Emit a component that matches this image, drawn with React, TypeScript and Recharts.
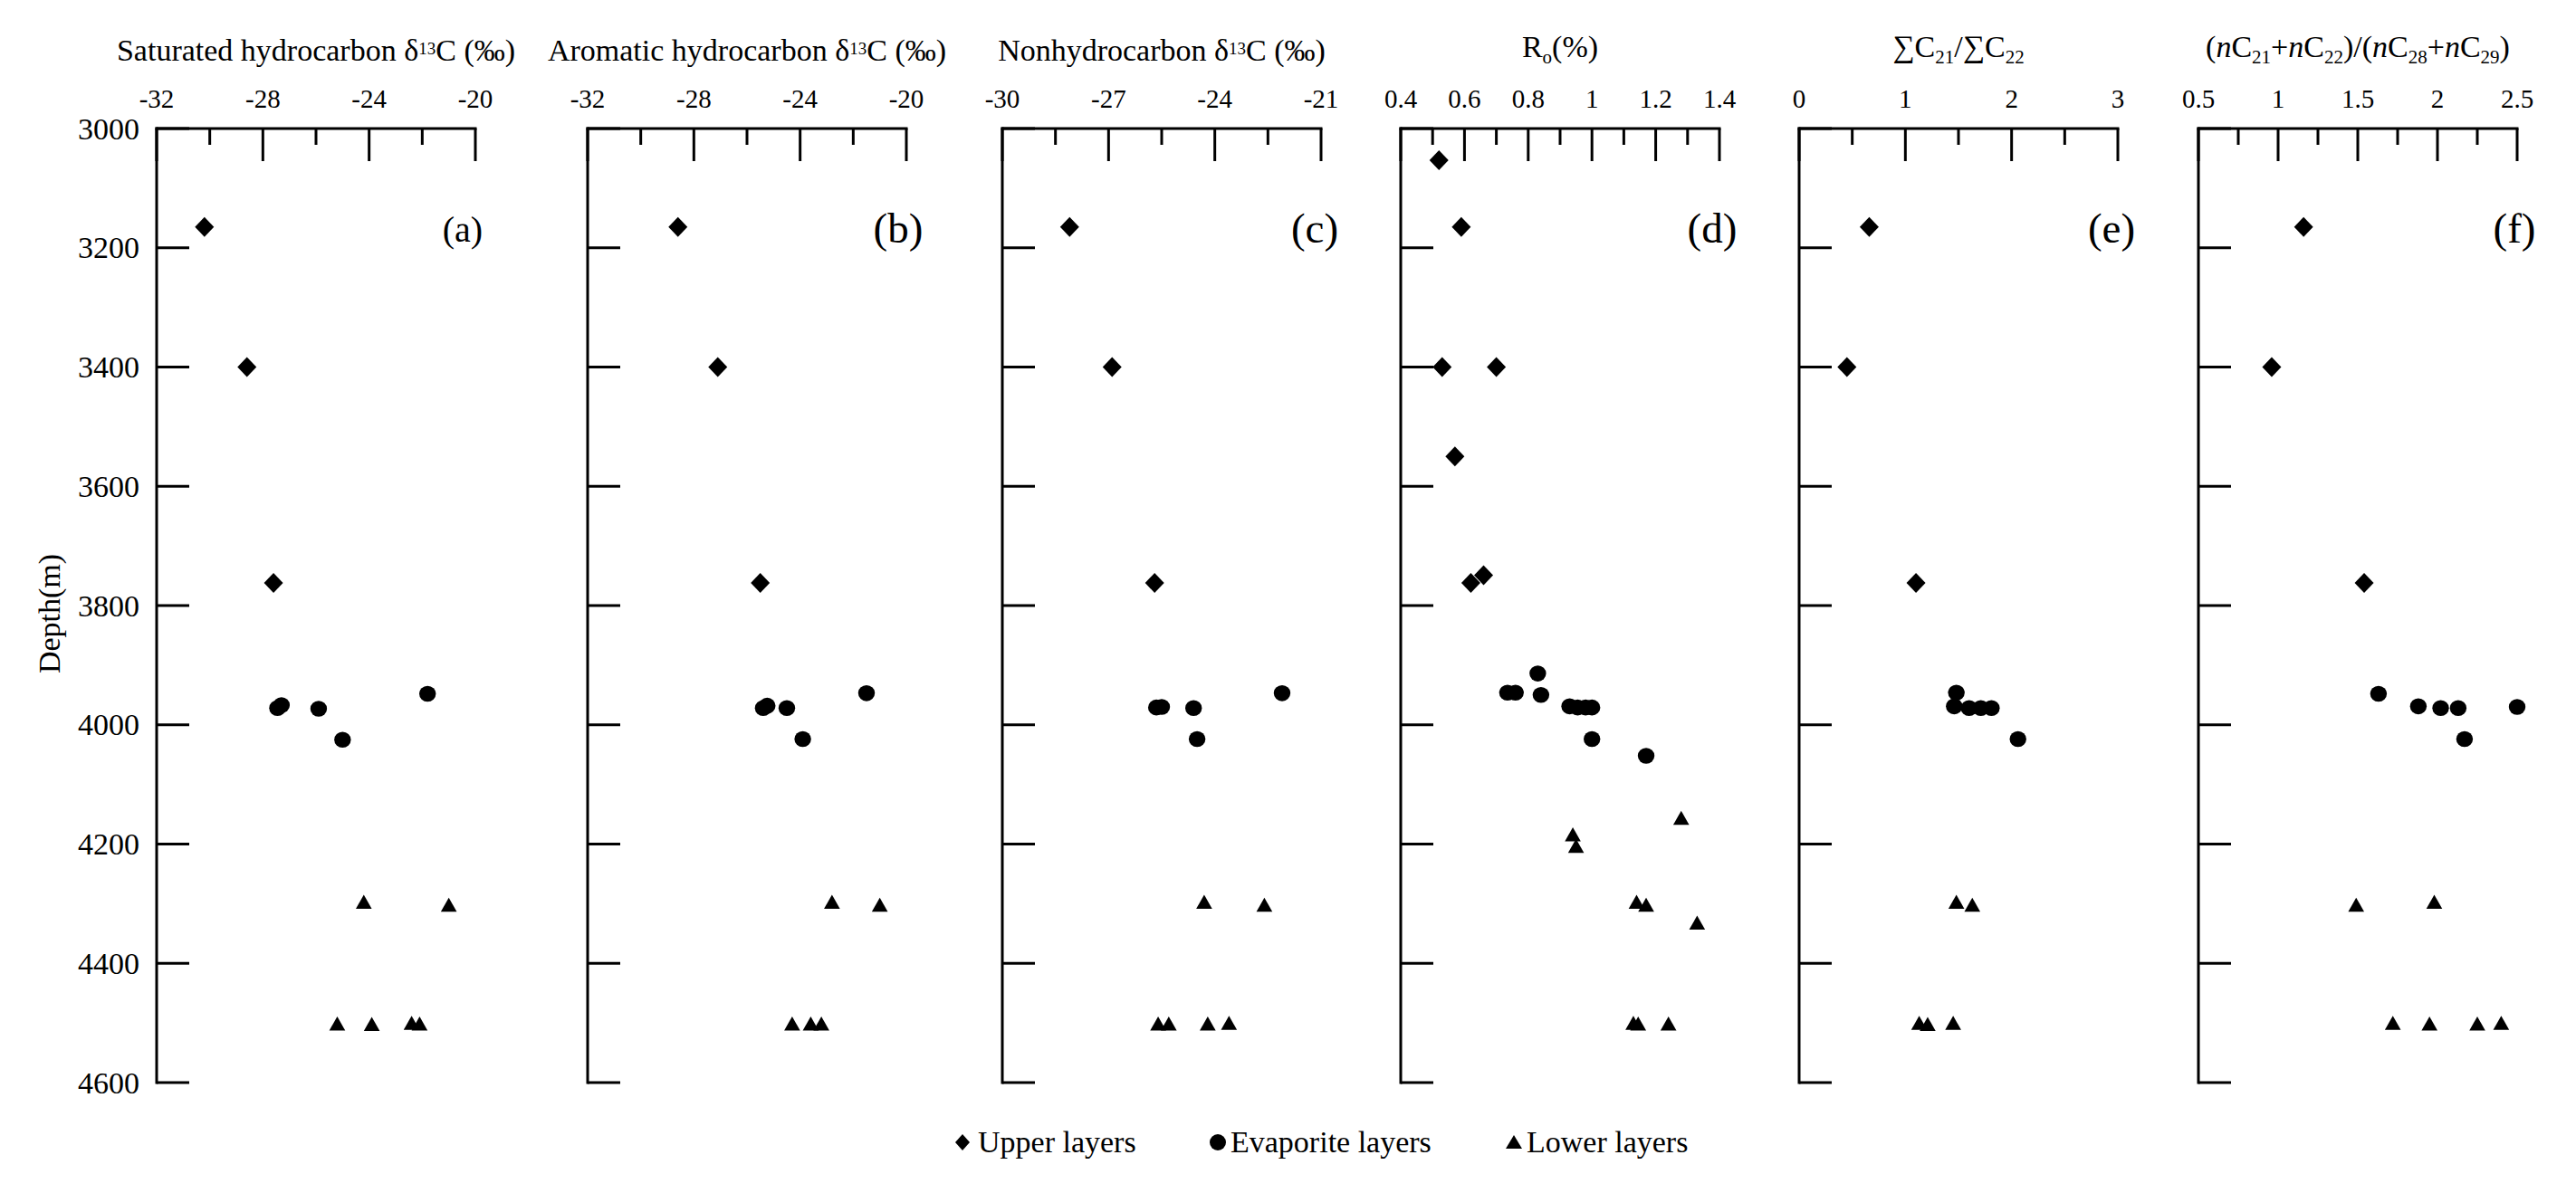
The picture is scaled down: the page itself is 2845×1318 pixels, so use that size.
import React from 'react';
import { ScatterChart, Scatter, XAxis, YAxis } from 'recharts';

const FONT = "'Liberation Serif', 'Times New Roman', Times, serif";

// depth axis (m), shared by all panels
const depthTicks = [3000, 3200, 3400, 3600, 3800, 4000, 4200, 4400, 4600];
const depthDomain: [number, number] = [3000, 4600];

type Pt = { v: number; depth: number };

// (a) saturated hydrocarbon d13C
const satTicks = [-32, -30, -28, -26, -24, -22, -20];
const satLabels = [-32, -28, -24, -20];
const satUpper: Pt[] = [
  { v: -30.2, depth: 3165 },
  { v: -28.6, depth: 3400 },
  { v: -27.6, depth: 3762 },
];
const satEvap: Pt[] = [
  { v: -27.45, depth: 3972 },
  { v: -27.3, depth: 3967 },
  { v: -25.9, depth: 3973 },
  { v: -25.0, depth: 4025 },
  { v: -21.8, depth: 3948 },
];
const satLower: Pt[] = [
  { v: -24.2, depth: 4298 },
  { v: -21.0, depth: 4303 },
  { v: -25.2, depth: 4502 },
  { v: -23.9, depth: 4503 },
  { v: -22.4, depth: 4501 },
  { v: -22.1, depth: 4502 },
];

// (b) aromatic hydrocarbon d13C
const aroTicks = [-32, -30, -28, -26, -24, -22, -20];
const aroLabels = [-32, -28, -24, -20];
const aroUpper: Pt[] = [
  { v: -28.6, depth: 3165 },
  { v: -27.1, depth: 3400 },
  { v: -25.5, depth: 3762 },
];
const aroEvap: Pt[] = [
  { v: -25.39, depth: 3972 },
  { v: -25.24, depth: 3968 },
  { v: -24.5, depth: 3972 },
  { v: -21.5, depth: 3947 },
  { v: -23.9, depth: 4024 },
];
const aroLower: Pt[] = [
  { v: -22.8, depth: 4298 },
  { v: -21.0, depth: 4303 },
  { v: -24.3, depth: 4502 },
  { v: -23.6, depth: 4502 },
  { v: -23.2, depth: 4502 },
];

// (c) nonhydrocarbon d13C
const nonTicks = [-30, -28.5, -27, -25.5, -24, -22.5, -21];
const nonLabels = [-30, -27, -24, -21];
const nonUpper: Pt[] = [
  { v: -28.1, depth: 3165 },
  { v: -26.9, depth: 3400 },
  { v: -25.7, depth: 3762 },
];
const nonEvap: Pt[] = [
  { v: -25.65, depth: 3971 },
  { v: -25.5, depth: 3970 },
  { v: -24.6, depth: 3972 },
  { v: -22.1, depth: 3947 },
  { v: -24.5, depth: 4024 },
];
const nonLower: Pt[] = [
  { v: -24.3, depth: 4298 },
  { v: -22.6, depth: 4303 },
  { v: -25.6, depth: 4502 },
  { v: -25.3, depth: 4502 },
  { v: -24.2, depth: 4502 },
  { v: -23.6, depth: 4501 },
];

// (d) Ro (%)
const roTicks = [0.4, 0.5, 0.6, 0.7, 0.8, 0.9, 1, 1.1, 1.2, 1.3, 1.4];
const roLabels = [0.4, 0.6, 0.8, 1, 1.2, 1.4];
const roUpper: Pt[] = [
  { v: 0.52, depth: 3053 },
  { v: 0.59, depth: 3165 },
  { v: 0.53, depth: 3400 },
  { v: 0.7, depth: 3400 },
  { v: 0.57, depth: 3550 },
  { v: 0.62, depth: 3762 },
  { v: 0.66, depth: 3749 },
];
const roEvap: Pt[] = [
  { v: 0.83, depth: 3914 },
  { v: 0.735, depth: 3946 },
  { v: 0.76, depth: 3946 },
  { v: 0.84, depth: 3950 },
  { v: 0.93, depth: 3969 },
  { v: 0.955, depth: 3971 },
  { v: 0.98, depth: 3971 },
  { v: 1.0, depth: 3971 },
  { v: 1.0, depth: 4024 },
  { v: 1.17, depth: 4052 },
];
const roLower: Pt[] = [
  { v: 1.28, depth: 4157 },
  { v: 0.94, depth: 4185 },
  { v: 0.95, depth: 4204 },
  { v: 1.14, depth: 4298 },
  { v: 1.17, depth: 4303 },
  { v: 1.33, depth: 4333 },
  { v: 1.13, depth: 4501 },
  { v: 1.145, depth: 4502 },
  { v: 1.24, depth: 4502 },
];

// (e) sumC21/sumC22
const c21Ticks = [0, 0.5, 1, 1.5, 2, 2.5, 3];
const c21Labels = [0, 1, 2, 3];
const c21Upper: Pt[] = [
  { v: 0.66, depth: 3165 },
  { v: 0.45, depth: 3400 },
  { v: 1.1, depth: 3762 },
];
const c21Evap: Pt[] = [
  { v: 1.48, depth: 3946 },
  { v: 1.46, depth: 3969 },
  { v: 1.6, depth: 3972 },
  { v: 1.71, depth: 3972 },
  { v: 1.81, depth: 3972 },
  { v: 2.06, depth: 4024 },
];
const c21Lower: Pt[] = [
  { v: 1.48, depth: 4298 },
  { v: 1.63, depth: 4303 },
  { v: 1.13, depth: 4501 },
  { v: 1.21, depth: 4503 },
  { v: 1.45, depth: 4501 },
];

// (f) (nC21+nC22)/(nC28+nC29)
const ncTicks = [0.5, 0.75, 1, 1.25, 1.5, 1.75, 2, 2.25, 2.5];
const ncLabels = [0.5, 1, 1.5, 2, 2.5];
const ncUpper: Pt[] = [
  { v: 1.16, depth: 3165 },
  { v: 0.96, depth: 3400 },
  { v: 1.54, depth: 3762 },
];
const ncEvap: Pt[] = [
  { v: 1.63, depth: 3948 },
  { v: 1.88, depth: 3969 },
  { v: 2.02, depth: 3972 },
  { v: 2.13, depth: 3972 },
  { v: 2.5, depth: 3970 },
  { v: 2.17, depth: 4024 },
];
const ncLower: Pt[] = [
  { v: 1.49, depth: 4303 },
  { v: 1.98, depth: 4298 },
  { v: 1.72, depth: 4501 },
  { v: 1.95, depth: 4502 },
  { v: 2.25, depth: 4502 },
  { v: 2.4, depth: 4501 },
];

const PLOT_W = 352;
const PLOT_TOP = 142;
const PLOT_BOTTOM = 1196;
const PAD = 130;
const CHART_H = 1240;
const X_AXIS_H = 60;

const diamond = (p: any) => (
  <path d={`M${p.cx},${p.cy - 11}L${p.cx + 10.5},${p.cy}L${p.cx},${p.cy + 11}L${p.cx - 10.5},${p.cy}Z`} fill="#000" />
);
const circle = (p: any) => <ellipse cx={p.cx} cy={p.cy} rx={9.2} ry={8.8} fill="#000" />;
const triangle = (p: any) => (
  <path d={`M${p.cx},${p.cy - 8.5}L${p.cx + 8.8},${p.cy + 7}L${p.cx - 8.8},${p.cy + 7}Z`} fill="#000" />
);

const XTick = (props: any) => {
  const { x, payload, labels } = props;
  const v = payload.value;
  const major = labels.some((l: number) => Math.abs(l - v) < 1e-6);
  return (
    <g>
      <line x1={x} x2={x} y1={PLOT_TOP} y2={PLOT_TOP + (major ? 36 : 18)} stroke="#000" strokeWidth={3} />
      {major && (
        <text x={x} y={PLOT_TOP - 23} textAnchor="middle" fontFamily={FONT} fontSize={29} fill="#000">
          {String(v)}
        </text>
      )}
    </g>
  );
};

const YTick = (props: any) => {
  const { y, payload, show } = props;
  return (
    <g>
      <line x1={PAD} x2={PAD + 36} y1={y} y2={y} stroke="#000" strokeWidth={3} />
      {show && (
        <text x={PAD - 19} y={y + 11.5} textAnchor="end" fontFamily={FONT} fontSize={34} fill="#000">
          {payload.value}
        </text>
      )}
    </g>
  );
};

interface PanelProps {
  left: number;
  domain: [number, number];
  ticks: number[];
  labels: number[];
  upper: Pt[];
  evap: Pt[];
  lower: Pt[];
  showDepth?: boolean;
}

const Panel = ({ left, domain, ticks, labels, upper, evap, lower, showDepth }: PanelProps) => (
  <div style={{ position: 'absolute', left: left - PAD, top: 0 }}>
    <ScatterChart
      width={PLOT_W + 2 * PAD}
      height={CHART_H}
      margin={{ top: PLOT_TOP - X_AXIS_H, right: PAD, bottom: CHART_H - PLOT_BOTTOM, left: 0 }}
    >
      <XAxis
        type="number"
        dataKey="v"
        orientation="top"
        domain={domain}
        ticks={ticks}
        interval={0}
        height={X_AXIS_H}
        tickSize={0}
        tickLine={false}
        axisLine={{ stroke: '#000', strokeWidth: 3, strokeLinecap: 'square' }}
        tick={<XTick labels={labels} />}
      />
      <YAxis
        type="number"
        dataKey="depth"
        domain={depthDomain}
        reversed
        ticks={depthTicks}
        interval={0}
        width={PAD}
        tickSize={0}
        tickLine={false}
        axisLine={{ stroke: '#000', strokeWidth: 3, strokeLinecap: 'square' }}
        tick={<YTick show={!!showDepth} />}
      />
      <Scatter data={upper} shape={diamond} isAnimationActive={false} />
      <Scatter data={evap} shape={circle} isAnimationActive={false} />
      <Scatter data={lower} shape={triangle} isAnimationActive={false} />
    </ScatterChart>
  </div>
);

const LEFTS = [173, 649, 1107, 1547, 1987, 2428];
const mid = (i: number) => LEFTS[i] + PLOT_W / 2;

export default function App() {
  return (
    <div style={{ position: 'absolute', left: 0, top: 0, width: 2845, height: 1318, background: '#fff', overflow: 'hidden' }}>
      <Panel left={LEFTS[0]} domain={[-32, -20]} ticks={satTicks} labels={satLabels} upper={satUpper} evap={satEvap} lower={satLower} showDepth />
      <Panel left={LEFTS[1]} domain={[-32, -20]} ticks={aroTicks} labels={aroLabels} upper={aroUpper} evap={aroEvap} lower={aroLower} />
      <Panel left={LEFTS[2]} domain={[-30, -21]} ticks={nonTicks} labels={nonLabels} upper={nonUpper} evap={nonEvap} lower={nonLower} />
      <Panel left={LEFTS[3]} domain={[0.4, 1.4]} ticks={roTicks} labels={roLabels} upper={roUpper} evap={roEvap} lower={roLower} />
      <Panel left={LEFTS[4]} domain={[0, 3]} ticks={c21Ticks} labels={c21Labels} upper={c21Upper} evap={c21Evap} lower={c21Lower} />
      <Panel left={LEFTS[5]} domain={[0.5, 2.5]} ticks={ncTicks} labels={ncLabels} upper={ncUpper} evap={ncEvap} lower={ncLower} />

      <svg width={2845} height={1318} style={{ position: 'absolute', left: 0, top: 0, pointerEvents: 'none' }} fontFamily={FONT} fill="#000">
        {/* panel titles */}
        <text x={mid(0)} y={67} textAnchor="middle" fontSize={34}>
          Saturated hydrocarbon δ<tspan fontSize={19} dy={-7}>13</tspan><tspan dy={7}>C (‰)</tspan>
        </text>
        <text x={mid(1)} y={67} textAnchor="middle" fontSize={34}>
          Aromatic hydrocarbon δ<tspan fontSize={19} dy={-7}>13</tspan><tspan dy={7}>C (‰)</tspan>
        </text>
        <text x={mid(2)} y={67} textAnchor="middle" fontSize={34}>
          Nonhydrocarbon δ<tspan fontSize={19} dy={-7}>13</tspan><tspan dy={7}>C (‰)</tspan>
        </text>
        <text x={mid(3)} y={63} textAnchor="middle" fontSize={34}>
          R<tspan fontSize={21} dy={7}>o</tspan><tspan dy={-7}>(%)</tspan>
        </text>
        <text x={mid(4)} y={63} textAnchor="middle" fontSize={34}>
          ∑C<tspan fontSize={21} dy={7}>21</tspan><tspan dy={-7}>/∑C</tspan><tspan fontSize={21} dy={7}>22</tspan>
        </text>
        <text x={mid(5)} y={63} textAnchor="middle" fontSize={34}>
          (<tspan fontStyle="italic">n</tspan>C<tspan fontSize={21} dy={7}>21</tspan>
          <tspan dy={-7}>+</tspan><tspan fontStyle="italic">n</tspan>C<tspan fontSize={21} dy={7}>22</tspan>
          <tspan dy={-7}>)/(</tspan><tspan fontStyle="italic">n</tspan>C<tspan fontSize={21} dy={7}>28</tspan>
          <tspan dy={-7}>+</tspan><tspan fontStyle="italic">n</tspan>C<tspan fontSize={21} dy={7}>29</tspan>
          <tspan dy={-7}>)</tspan>
        </text>

        {/* panel letters */}
        <text x={511} y={267} textAnchor="middle" fontSize={40}>(a)</text>
        <text x={992} y={268} textAnchor="middle" fontSize={47}>(b)</text>
        <text x={1452} y={268} textAnchor="middle" fontSize={47}>(c)</text>
        <text x={1891} y={268} textAnchor="middle" fontSize={47}>(d)</text>
        <text x={2332} y={268} textAnchor="middle" fontSize={47}>(e)</text>
        <text x={2777} y={268} textAnchor="middle" fontSize={47}>(f)</text>

        {/* depth label */}
        <text transform="translate(66,678) rotate(-90)" textAnchor="middle" fontSize={34}>Depth(m)</text>

        {/* legend */}
        <path d="M1063,1253L1071,1262L1063,1271L1055,1262Z" />
        <text x={1080} y={1273} fontSize={34}>Upper layers</text>
        <circle cx={1345} cy={1262} r={9} />
        <text x={1359} y={1273} fontSize={34}>Evaporite layers</text>
        <path d="M1672,1254L1681,1269L1663,1269Z" />
        <text x={1686} y={1273} fontSize={34}>Lower layers</text>
      </svg>
    </div>
  );
}
